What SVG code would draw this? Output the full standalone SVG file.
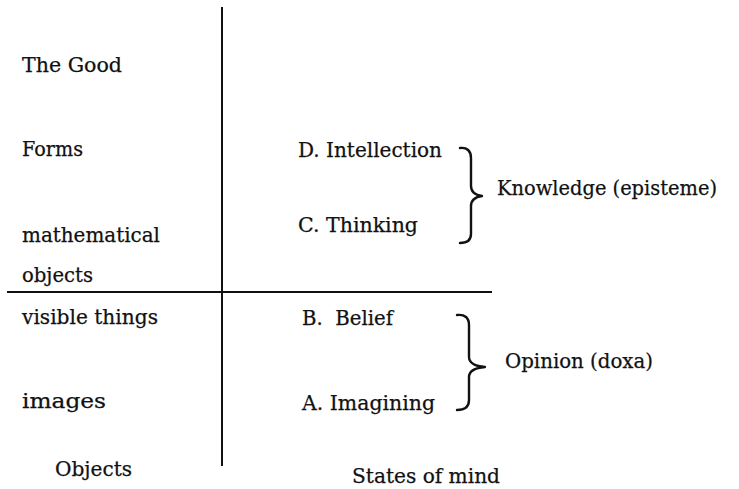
<svg xmlns="http://www.w3.org/2000/svg" width="739" height="489" viewBox="0 0 739 489">
<style>
text{font-family:"DejaVu Serif","Liberation Serif",serif;font-size:21px;fill:#111;stroke:#111;stroke-width:0.25}
.ln{stroke:#111;stroke-width:2;fill:none}
.br{stroke:#111;stroke-width:2.4;fill:none;stroke-linecap:round;stroke-linejoin:round}
</style>
<rect width="739" height="489" fill="#fff"/>
<g id="connectors">
<line class="ln" x1="222" y1="7" x2="222" y2="466"/>
<line class="ln" x1="7" y1="292" x2="492" y2="292"/>
<path class="br" d="M460,148 C467,147 471,151 471,158 L471,186 C471,192 475,195 482,196 C475,197 471,200 471,206 L471,234 C471,240 467,243 460,243"/>
<path class="br" d="M457,315 C465,314 469,318 469,325 L469,357 C469,363 474,366 485,367 C474,368 469,371 469,377 L469,400 C469,407 465,410 457,410"/>
</g>
<g id="objects">
<text x="22" y="72" textLength="100" lengthAdjust="spacingAndGlyphs">The Good</text>
<text x="22" y="156" textLength="61" lengthAdjust="spacingAndGlyphs">Forms</text>
<text x="22" y="242" textLength="138" lengthAdjust="spacingAndGlyphs">mathematical</text>
<text x="22" y="282" textLength="71" lengthAdjust="spacingAndGlyphs">objects</text>
<text x="22" y="324" textLength="136" lengthAdjust="spacingAndGlyphs">visible things</text>
<text x="22" y="408" textLength="84" lengthAdjust="spacingAndGlyphs">images</text>
<text x="55" y="476" textLength="77" lengthAdjust="spacingAndGlyphs">Objects</text>
</g>
<g id="states">
<text x="298" y="157" textLength="144" lengthAdjust="spacingAndGlyphs">D. Intellection</text>
<text x="298" y="232" textLength="120" lengthAdjust="spacingAndGlyphs">C. Thinking</text>
<text x="302" y="325" textLength="91" lengthAdjust="spacingAndGlyphs" xml:space="preserve">B.  Belief</text>
<text x="302" y="410" textLength="133" lengthAdjust="spacingAndGlyphs">A. Imagining</text>
<text x="352" y="483" textLength="148" lengthAdjust="spacingAndGlyphs">States of mind</text>
</g>
<g id="knowledge">
<text x="497" y="195" textLength="220" lengthAdjust="spacingAndGlyphs">Knowledge (episteme)</text>
</g>
<g id="opinion">
<text x="505" y="368" textLength="148" lengthAdjust="spacingAndGlyphs">Opinion (doxa)</text>
</g>
</svg>
